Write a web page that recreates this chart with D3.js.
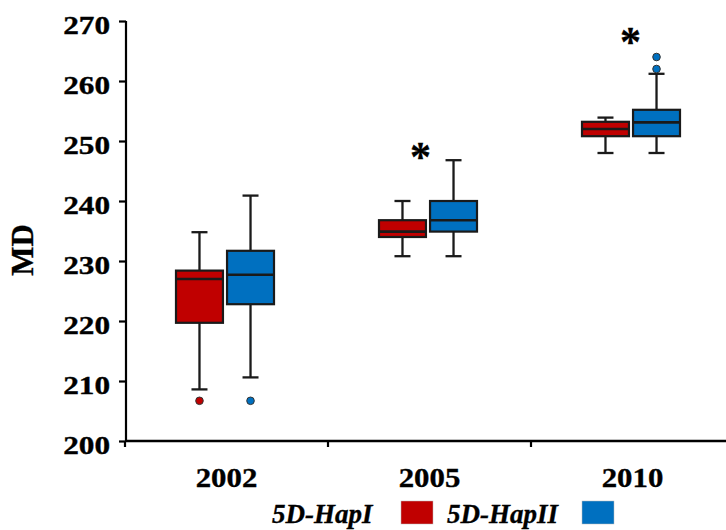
<!DOCTYPE html>
<html>
<head>
<meta charset="utf-8">
<script src="https://cdn.jsdelivr.net/npm/d3@7"></script>
<style>
  body { margin: 0; background: #fff; }
  text { font-family: "Liberation Serif", "Times New Roman", serif; font-weight: bold; stroke: #000; stroke-width: 0.35px; }
</style>
</head>
<body>
<svg id="chart" width="726" height="530"></svg>
<script>
const years = ["2002", "2005", "2010"];
const groups = ["5D-HapI", "5D-HapII"];
const colors = ["#C00000", "#0070C0"];
const yTicks = [200, 210, 220, 230, 240, 250, 260, 270];

// [min, q1, median, q3, max] per year
const hapIStats = [
    [208.6, 219.7, 227.0, 228.4, 234.8],
    [230.8, 234.0, 234.9, 236.8, 240.0],
    [248.0, 250.8, 252.0, 253.2, 253.9]
];
const hapIIStats = [
    [210.6, 222.8, 227.7, 231.7, 240.9],
    [230.8, 234.9, 236.8, 240.0, 246.8],
    [248.0, 250.8, 253.1, 255.2, 261.2]
];
const hapIOutliers = [[206.7], [], []];
const hapIIOutliers = [[206.7], [], [262.0, 264.0]];

// significance marks: year, value
const starYears = ["2005", "2010"];
const starValues = [248.3, 267.5];

const svg = d3.select("#chart");

const x = d3.scaleBand().domain(years).range([125, 734]);
const xSub = d3.scaleBand().domain(groups).range([-50.5, 47.5]).paddingInner(0.08);
const y = d3.scaleLinear().domain([200, 270]).range([441, 21]);

const boxes = [];
years.forEach((yr, i) => {
    [hapIStats, hapIIStats].forEach((stats, g) => {
        const s = stats[i];
        boxes.push({
            year: yr, group: groups[g], color: colors[g],
            min: s[0], q1: s[1], med: s[2], q3: s[3], max: s[4],
            outliers: [hapIOutliers, hapIIOutliers][g][i]
        });
    });
});

const bw = xSub.bandwidth();
const cap = 16;
const ink = "#1a1a1a";

const bg = svg.append("g").selectAll("g")
    .data(boxes)
    .enter().append("g")
    .attr("transform", d => `translate(${x(d.year) + x.bandwidth() / 2 + xSub(d.group)},0)`);

// whiskers
bg.append("line")
    .attr("x1", bw / 2).attr("x2", bw / 2)
    .attr("y1", d => y(d.max)).attr("y2", d => y(d.q3))
    .attr("stroke", ink).attr("stroke-width", 2.3);
bg.append("line")
    .attr("x1", bw / 2).attr("x2", bw / 2)
    .attr("y1", d => y(d.q1)).attr("y2", d => y(d.min))
    .attr("stroke", ink).attr("stroke-width", 2.3);
bg.append("line")
    .attr("x1", bw / 2 - cap / 2).attr("x2", bw / 2 + cap / 2)
    .attr("y1", d => y(d.max)).attr("y2", d => y(d.max))
    .attr("stroke", ink).attr("stroke-width", 2.3);
bg.append("line")
    .attr("x1", bw / 2 - cap / 2).attr("x2", bw / 2 + cap / 2)
    .attr("y1", d => y(d.min)).attr("y2", d => y(d.min))
    .attr("stroke", ink).attr("stroke-width", 2.3);

// boxes
bg.append("rect")
    .attr("x", 0).attr("width", bw)
    .attr("y", d => y(d.q3))
    .attr("height", d => y(d.q1) - y(d.q3))
    .attr("fill", d => d.color)
    .attr("stroke", ink).attr("stroke-width", 2.2);
bg.append("line")
    .attr("x1", 0).attr("x2", bw)
    .attr("y1", d => y(d.med)).attr("y2", d => y(d.med))
    .attr("stroke", ink).attr("stroke-width", 2.6);

// outliers
bg.selectAll("circle")
    .data(d => d.outliers.map(v => ({ v, color: d.color })))
    .enter().append("circle")
    .attr("cx", bw / 2)
    .attr("cy", d => y(d.v))
    .attr("r", 3.8)
    .attr("fill", d => d.color)
    .attr("stroke", "#333").attr("stroke-width", 1);

// significance stars
svg.append("g").selectAll("text")
    .data(starYears.map((yr, i) => ({ yr, v: starValues[i] })))
    .enter().append("text")
    .attr("x", d => x(d.yr) + x.bandwidth() / 2 + (d.yr === "2005" ? -9 : -2))
    .attr("y", d => y(d.v) + 20)
    .attr("text-anchor", "middle")
    .style("font-size", "42px")
    .text("*");

// y axis
const yAxis = svg.append("g")
    .attr("transform", "translate(126,0)")
    .call(d3.axisLeft(y).tickValues(yTicks).tickSize(7).tickFormat(d3.format("d")));
yAxis.selectAll("path, line").attr("stroke", "#000").attr("stroke-width", 2.2);
yAxis.select(".domain").attr("d", `M0,${y(270)}V${y(200)}`);
yAxis.selectAll("text")
    .attr("x", 0).attr("dy", "0.5em")
    .attr("transform", "translate(-16,0) scale(1.25,1)")
    .attr("fill", "#000")
    .style("font-size", "25px")
    .style("font-family", "Liberation Serif")
    .style("font-weight", "bold");

// x axis
const xAxis = svg.append("g")
    .attr("transform", `translate(0,${y(200)})`)
    .call(d3.axisBottom(x).tickSize(0).tickPadding(0));
xAxis.select(".domain").attr("d", `M126,0H726`).attr("stroke", "#000").attr("stroke-width", 2.5);
xAxis.selectAll(".tick text")
    .attr("y", 0).attr("dy", 0)
    .attr("transform", "translate(0,46) scale(1.1,1)")
    .attr("fill", "#000")
    .style("font-size", "28px")
    .style("font-family", "Liberation Serif")
    .style("font-weight", "bold");
xAxis.selectAll(".boundary")
    .data(years.slice(0, 2))
    .enter().append("line")
    .attr("class", "boundary")
    .attr("x1", d => x(d) + x.bandwidth()).attr("x2", d => x(d) + x.bandwidth())
    .attr("y1", 0).attr("y2", 6)
    .attr("stroke", "#000").attr("stroke-width", 2.2);
xAxis.append("line")
    .attr("x1", x(years[0])).attr("x2", x(years[0]))
    .attr("y1", 0).attr("y2", 6)
    .attr("stroke", "#000").attr("stroke-width", 2.2);

// y label
svg.append("text")
    .attr("transform", "translate(33,250) rotate(-90)")
    .attr("text-anchor", "middle")
    .style("font-size", "31px")
    .text("MD");

// legend
const legendX = [272, 447];
const legendRectX = [401, 582];
const legend = svg.append("g");
groups.forEach((g, i) => {
    legend.append("text")
        .attr("x", legendX[i]).attr("y", 523)
        .style("font-size", "27px")
        .style("font-style", "italic")
        .text(g);
    legend.append("rect")
        .attr("x", legendRectX[i]).attr("y", 501)
        .attr("width", 32).attr("height", 23)
        .attr("fill", colors[i])
        .attr("stroke", "#bbb").attr("stroke-width", 0.5);
});
</script>
</body>
</html>
